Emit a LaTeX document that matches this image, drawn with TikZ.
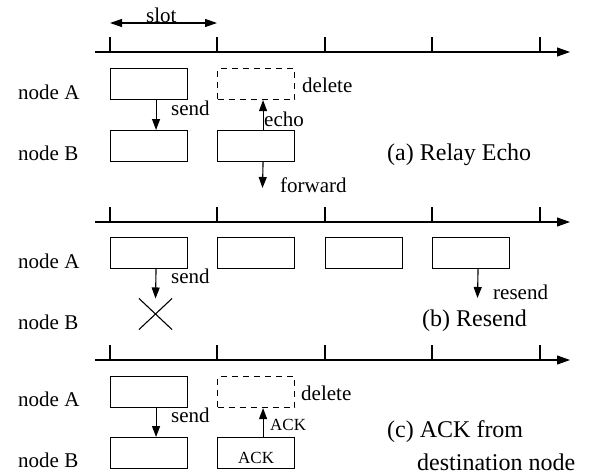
\documentclass[tikz,border=0pt]{standalone}
\usepackage{fontspec}
\setmainfont{Liberation Serif}
\usetikzlibrary{arrows.meta, positioning, shapes.misc}

\begin{document}
\begin{tikzpicture}[x=1pt, y=-1pt,
    slotbox/.style={draw, line width=1.1pt, minimum width=77pt, minimum height=31pt, inner sep=0pt, anchor=north west},
    gonebox/.style={slotbox, dash pattern=on 6pt off 5pt},
    sig/.style={-{Triangle[length=11pt,width=8pt]}, line width=1.1pt},
    timeline/.style={-{Triangle[length=13pt,width=9pt]}, line width=1.1pt},
    lbl/.style={anchor=base west, inner sep=0pt, font=\fontsize{21}{24}\selectfont},
    caplbl/.style={anchor=base west, inner sep=0pt, font=\fontsize{24}{28}\selectfont},
    smalllbl/.style={anchor=base west, inner sep=0pt, font=\fontsize{17}{20}\selectfont}]
    \useasboundingbox (0,0) rectangle (596,474);

    % time axes with slot ticks
    \foreach \y/\n in {52/1, 222/2, 360/3} {
        \coordinate (t\n s) at (95,\y);
        \coordinate (t\n e) at (570,\y);
        \draw[timeline] (t\n s) -- (t\n e);
        \foreach \x in {110,217,325,432,540}
            \draw[line width=1.1pt] (\x,\y) -- (\x,\y-15);
    }

    % slot length
    \coordinate (sl1) at (110,23);
    \coordinate (sl2) at (217,23);
    \draw[{Triangle[length=12pt,width=8pt]}-{Triangle[length=12pt,width=8pt]}, line width=1.1pt] (sl1) -- (sl2);
    \node[lbl] (slot) at (146,22) {slot};

    % (a) Relay Echo
    \node[slotbox] (a1) at (110,68) {};
    \node[gonebox] (a2) at (217,68) {};
    \node[slotbox] (b1) at (110,130) {};
    \node[slotbox] (b2) at (217,130) {};
    \coordinate (fwd) at (262.5,188);
    \draw[sig] ([xshift=7pt]a1.south) -- ([xshift=7pt]b1.north);
    \draw[sig] ([xshift=7pt]b2.north) -- ([xshift=7pt]a2.south);
    \draw[sig] ([xshift=7pt]b2.south) -- (fwd);
    \node[lbl] (nA1) at (18,99) {node A};
    \node[lbl] (nB1) at (18,160) {node B};
    \node[lbl] (send1) at (171,115) {send};
    \node[lbl] (echo) at (264,126) {echo};
    \node[lbl] (del1) at (302,92) {delete};
    \node[lbl] (forward) at (280,192) {forward};
    \node[caplbl] (capa) at (387,160) {(a) Relay Echo};

    % (b) Resend
    \node[slotbox] (a1b) at (110,237) {};
    \node[slotbox] (a2b) at (217,237) {};
    \node[slotbox] (a3b) at (325,237) {};
    \node[slotbox] (a4b) at (432,237) {};
    \node[draw, cross out, line width=1.1pt, minimum width=32pt, minimum height=30pt, inner sep=0pt] (lost) at (155.5,314) {};
    \coordinate (rs) at (477.5,298);
    \draw[sig] ([xshift=7pt]a1b.south) -- (lost.north);
    \draw[sig] ([xshift=7pt]a4b.south) -- (rs);
    \node[lbl] (nA2) at (18,268) {node A};
    \node[lbl] (nB2) at (18,329) {node B};
    \node[lbl] (send2) at (171,283) {send};
    \node[lbl] (resend) at (493,299) {resend};
    \node[caplbl] (capb) at (422,326) {(b) Resend};

    % (c) ACK from destination node
    \node[slotbox] (a1c) at (110,376) {};
    \node[gonebox] (a2c) at (217,376) {};
    \node[slotbox] (b1c) at (110,437) {};
    \node[slotbox] (b2c) at (217,437) {};
    \node[smalllbl] (ackin) at (238,463) {ACK};
    \draw[sig] ([xshift=7pt]a1c.south) -- ([xshift=7pt]b1c.north);
    \draw[sig] ([xshift=7pt]b2c.north) -- ([xshift=7pt]a2c.south);
    \node[lbl] (nA3) at (18,406) {node A};
    \node[lbl] (nB3) at (18,467) {node B};
    \node[lbl] (send3) at (171,422) {send};
    \node[lbl] (del3) at (301,400) {delete};
    \node[smalllbl] (ackup) at (270,430) {ACK};
    \node[caplbl] (capc) at (387,437) {(c) ACK from};
    \node[caplbl] (capc2) at (417,470) {destination node};
\end{tikzpicture}
\end{document}
